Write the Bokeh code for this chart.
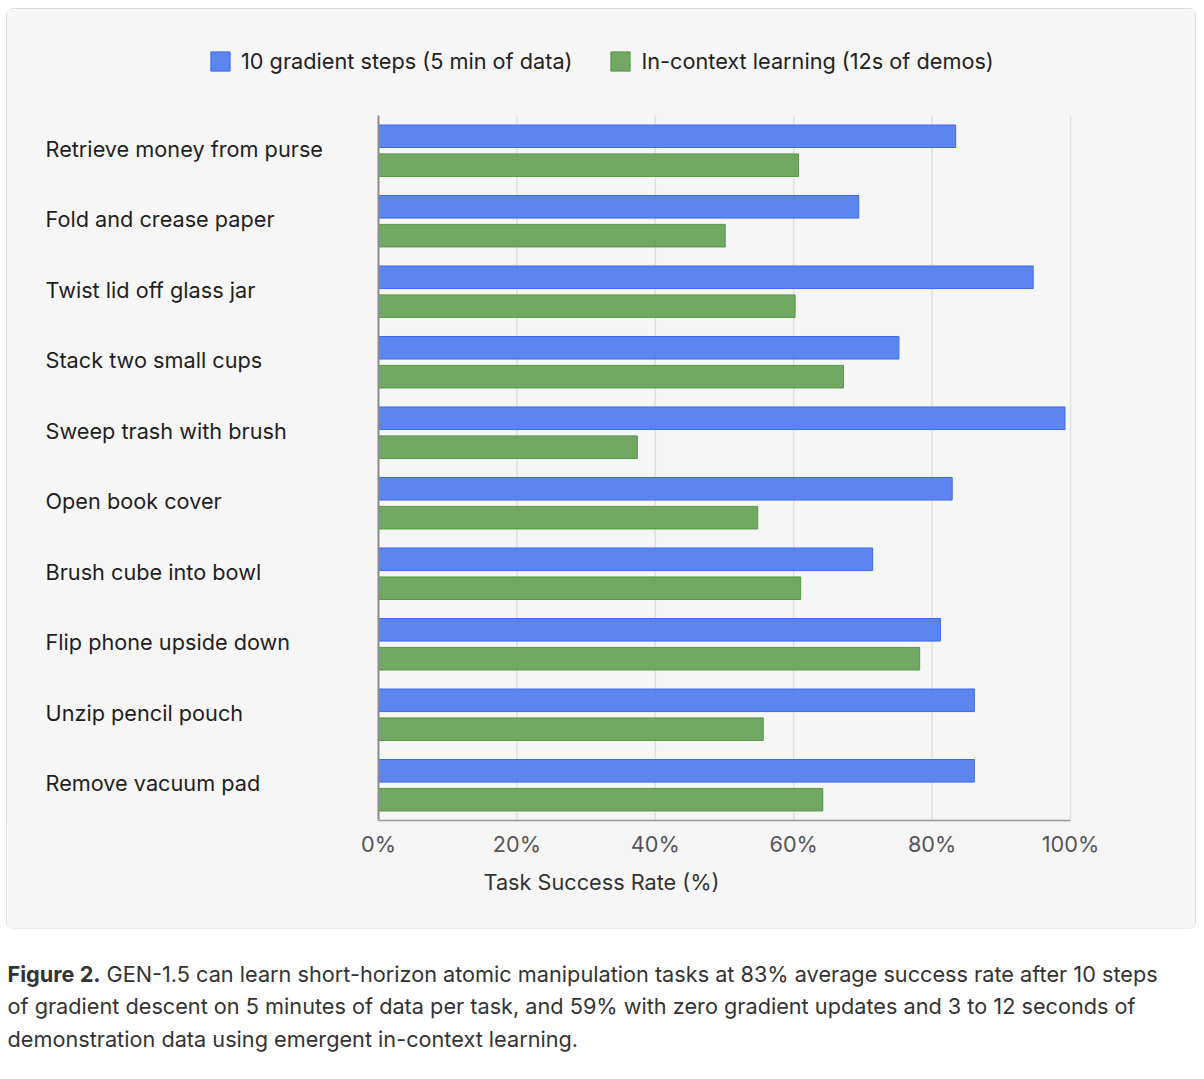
from bokeh.plotting import figure
from bokeh.models import Range1d, FixedTicker, Legend, LegendItem, ColumnDataSource
from bokeh.layouts import column
from bokeh.embed import file_html
from bokeh.resources import INLINE
from bokeh.core.properties import value

tasks = [
    "Retrieve money from purse",
    "Fold and crease paper",
    "Twist lid off glass jar",
    "Stack two small cups",
    "Sweep trash with brush",
    "Open book cover",
    "Brush cube into bowl",
    "Flip phone upside down",
    "Unzip pencil pouch",
    "Remove vacuum pad",
]
gradient_steps = [83.4, 69.4, 94.6, 75.2, 99.2, 82.9, 71.4, 81.2, 86.1, 86.1]
in_context = [60.7, 50.1, 60.2, 67.2, 37.4, 54.8, 61.0, 78.2, 55.6, 64.2]
series_names = ["10 gradient steps (5 min of data)", "In-context learning (12s of demos)"]
x_ticks = [0, 20, 40, 60, 80, 100]
tick_labels = ["0%", "20%", "40%", "60%", "80%", "100%"]
x_title = "Task Success Rate (%)"
caption_bold = "Figure 2."
caption_lines = [
    "GEN-1.5 can learn short-horizon atomic manipulation tasks at 83% average success rate after 10 steps",
    "of gradient descent on 5 minutes of data per task, and 59% with zero gradient updates and 3 to 12 seconds of",
    "demonstration data using emergent in-context learning.",
]

FONT = "Inter"
FS = "21.7px"
BG = "#f6f6f6"
BLUE = "#4d79ef"
BLUE_LINE = "#3d69ee"
GREEN = "#63a052"
GREEN_LINE = "#559a44"
LABEL_X = -48.12
OFFSET = 0.205
BAR_H = 0.32

n = len(tasks)
pos = [n - 1 - i for i in range(n)]          # top-to-bottom category slots
y_lo, y_hi = -0.5, n - 0.5                    # extent of the category band

src = ColumnDataSource(dict(
    task=tasks, pos=pos,
    pos_blue=[v + OFFSET for v in pos], pos_green=[v - OFFSET for v in pos],
    grad=gradient_steps, icl=in_context,
))

p = figure(
    width=1188, height=919,
    x_range=Range1d(-53.61, 118.06),
    y_range=Range1d(y_lo, 11.003),
    toolbar_location=None, output_backend="svg",
    y_axis_location=None,
    min_border_left=0, min_border_right=0,
    min_border_top=0, min_border_bottom=108,
    background_fill_color=BG, border_fill_color=BG,
    outline_line_color=None,
)
p.margin = (9, 0, 0, 7)
p.styles = {"outline": "1px solid #dcdcdc", "border-radius": "6px"}
p.xgrid.visible = False
p.ygrid.visible = False

# vertical grid lines over the category band
p.segment(x0=x_ticks[1:], x1=x_ticks[1:], y0=y_lo, y1=y_hi, line_color="#e0e0e0", line_width=1.5)

r1 = p.hbar(y="pos_blue", left=0, right="grad", height=BAR_H,
            source=src, fill_color=BLUE, fill_alpha=0.9, line_color=BLUE_LINE, line_width=1)
r2 = p.hbar(y="pos_green", left=0, right="icl", height=BAR_H,
            source=src, fill_color=GREEN, fill_alpha=0.9, line_color=GREEN_LINE, line_width=1)

# left axis line at 0%
p.segment(x0=[x_ticks[0]], x1=[x_ticks[0]], y0=y_lo, y1=y_hi, line_color="#8a8a8a", line_width=2)

p.text(x=LABEL_X, y="pos", text="task", source=src, text_align="left", text_baseline="middle",
       y_offset=-2,
       text_font=value(FONT), text_font_size=FS, text_color="#1f1f1f")

ax = p.xaxis[0]
ax.ticker = FixedTicker(ticks=x_ticks)
ax.major_label_overrides = {t: l for t, l in zip(x_ticks, tick_labels)}
ax.bounds = (x_ticks[0], x_ticks[-1])
ax.axis_line_color = "#999999"
ax.axis_line_width = 1.5
ax.major_tick_line_color = None
ax.minor_tick_line_color = None
ax.major_label_text_font = FONT
ax.major_label_text_font_size = FS
ax.major_label_text_color = "#555555"
ax.major_label_standoff = 4
ax.axis_label = x_title
ax.axis_label_text_font = FONT
ax.axis_label_text_font_style = "normal"
ax.axis_label_text_font_size = FS
ax.axis_label_text_color = "#333333"
ax.axis_label_standoff = 9

legend = Legend(
    items=[LegendItem(label=series_names[0], renderers=[r1]),
           LegendItem(label=series_names[1], renderers=[r2])],
    orientation="horizontal", location=(201, 746),
    padding=0, margin=0, spacing=36,
    glyph_width=24, glyph_height=24, label_standoff=9,
    label_text_font=FONT, label_text_font_size=FS, label_text_color="#222222",
    border_line_color=None, background_fill_alpha=0,
)
p.add_layout(legend, "center")

cap = figure(
    width=1188, height=143,
    x_range=Range1d(0, 1188), y_range=Range1d(143, 0),
    toolbar_location=None, output_backend="svg",
    x_axis_location=None, y_axis_location=None,
    min_border=0, outline_line_color=None,
    background_fill_color="white", border_fill_color="white",
)
cap.margin = (0, 0, 0, 7)
cap.grid.visible = False
cap.text(x=[0], y=[45], text=[caption_bold], text_font=value(FONT), text_font_style="bold",
         text_font_size=FS, text_color="#333333", text_baseline="alphabetic")
cap.text(x=[99, 0, 0], y=[45, 77, 110], text=caption_lines, text_font=value(FONT),
         text_font_size=FS, text_color="#333333", text_baseline="alphabetic")

layout = column(p, cap, spacing=0)
open("out.html", "w").write(file_html(layout, INLINE))
